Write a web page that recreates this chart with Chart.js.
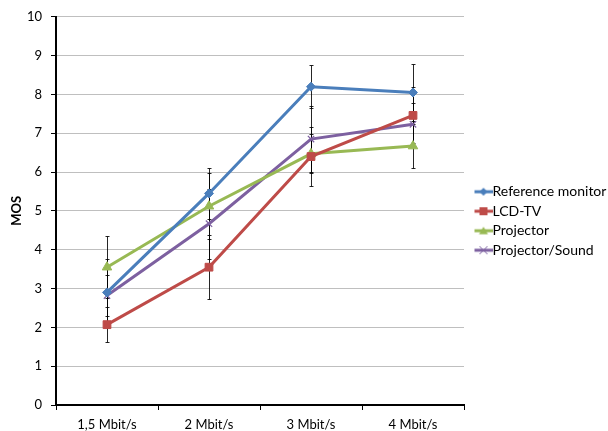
<!DOCTYPE html>
<html>
<head>
<meta charset="utf-8">
<script src="https://cdn.jsdelivr.net/npm/chart.js@4/dist/chart.umd.min.js"></script>
<style>
  html, body { margin: 0; padding: 0; background: #fff; }
  #wrap { width: 608px; height: 431px; }
</style>
</head>
<body>
<div id="wrap"><canvas id="c" width="608" height="431"></canvas></div>
<script>
const categories = ['1,5 Mbit/s', '2 Mbit/s', '3 Mbit/s', '4 Mbit/s'];
const seriesNames = ['Reference monitor', 'LCD-TV', 'Projector', 'Projector/Sound'];
const refMonitor = [2.90, 5.45, 8.20, 8.05];
const lcdTv = [2.07, 3.55, 6.40, 7.46];
const projector = [3.55, 5.12, 6.47, 6.67];
const projectorSound = [2.82, 4.67, 6.85, 7.23];
const refMonitorErr = [0.85, 0.65, 0.56, 0.73];
const lcdTvErr = [0.46, 0.83, 0.75, 0.72];
const projectorErr = [0.80, 0.85, 0.50, 0.57];
const projectorSoundErr = [0.52, 0.90, 0.85, 0.55];
const yTicks = [0, 1, 2, 3, 4, 5, 6, 7, 8, 9, 10];

const colors = ['#4a7ebb', '#be4b48', '#98b954', '#7d60a0'];
const styles = ['rectRot', 'rect', 'triangle', 'crossRot'];
const radii = [4.5, 5.5, 5.5, 4.5];

// legend glyph: transparent 12px on the left, 18px line+marker on the right
function legendGlyph(i) {
  const cv = document.createElement('canvas');
  cv.width = 30; cv.height = 12;
  const g = cv.getContext('2d');
  g.strokeStyle = colors[i]; g.fillStyle = colors[i];
  g.lineWidth = 3;
  g.beginPath(); g.moveTo(12, 6); g.lineTo(30, 6); g.stroke();
  const cx = 21, cy = 6;
  g.lineWidth = 1;
  g.beginPath();
  if (i === 0) { g.moveTo(cx, cy - 4); g.lineTo(cx + 4, cy); g.lineTo(cx, cy + 4); g.lineTo(cx - 4, cy); g.closePath(); g.fill(); }
  else if (i === 1) { g.fillRect(cx - 4, cy - 4, 8, 8); }
  else if (i === 2) { g.moveTo(cx, cy - 4); g.lineTo(cx + 4.5, cy + 3.5); g.lineTo(cx - 4.5, cy + 3.5); g.closePath(); g.fill(); }
  else { g.moveTo(cx - 4, cy - 4); g.lineTo(cx + 4, cy + 4); g.moveTo(cx + 4, cy - 4); g.lineTo(cx - 4, cy + 4); g.stroke(); }
  return cv;
}
const glyphs = [0, 1, 2, 3].map(legendGlyph);

const errorBarPlugin = {
  id: 'errorBars',
  beforeDatasetsDraw(chart) {
    const { ctx, scales: { x, y } } = chart;
    ctx.save();
    ctx.strokeStyle = 'rgba(0,0,0,0.85)';
    ctx.lineWidth = 1;
    chart.data.datasets.forEach(ds => {
      ds.errors.forEach((e, i) => {
        const px = Math.round(x.getPixelForValue(i)) + 0.5;
        const top = Math.round(y.getPixelForValue(ds.data[i] + e)) + 0.5;
        const bot = Math.round(y.getPixelForValue(ds.data[i] - e)) + 0.5;
        ctx.beginPath();
        ctx.moveTo(px, top); ctx.lineTo(px, bot);
        ctx.moveTo(px - 2, top); ctx.lineTo(px + 2, top);
        ctx.moveTo(px - 2, bot); ctx.lineTo(px + 2, bot);
        ctx.stroke();
      });
    });
    ctx.restore();
  }
};

const seriesData = [refMonitor, lcdTv, projector, projectorSound];
const seriesErr = [refMonitorErr, lcdTvErr, projectorErr, projectorSoundErr];

const datasets = seriesData.map((d, i) => ({
  label: seriesNames[i],
  data: d,
  errors: seriesErr[i],
  borderColor: colors[i],
  backgroundColor: colors[i],
  borderWidth: 3,
  pointStyle: styles[i],
  pointRadius: radii[i],
  pointHoverRadius: radii[i],
  pointBorderWidth: i === 3 ? 1.2 : 1,
  pointBackgroundColor: colors[i],
  pointBorderColor: colors[i],
  tension: 0,
  fill: false
}));

const FONT = "Lato, 'Open Sans', sans-serif";

new Chart(document.getElementById('c'), {
  type: 'line',
  data: { labels: categories, datasets },
  plugins: [errorBarPlugin],
  options: {
    responsive: false,
    animation: false,
    layout: { padding: { top: 11, right: 0, left: 9, bottom: 0 } },
    plugins: {
      legend: {
        position: 'right',
        align: 'center',
        maxWidth: 144,
        labels: {
          usePointStyle: true,
          pointStyleWidth: 16,
          boxHeight: 12,
          padding: 5.5,
          color: '#000',
          font: { family: FONT, size: 14 },
          generateLabels(chart) {
            const items = Chart.defaults.plugins.legend.labels.generateLabels(chart);
            items.forEach((it, i) => { it.pointStyle = glyphs[i]; it.rotation = 0; });
            return items;
          }
        }
      },
      tooltip: { enabled: false }
    },
    scales: {
      x: {
        type: 'category',
        offset: true,
        afterFit(axis) { axis.height = 26; },
        grid: { offset: true, drawOnChartArea: false, drawTicks: true, tickLength: 5, tickColor: '#000', tickWidth: 1 },
        border: { color: '#000', width: 2 },
        ticks: { color: '#000', font: { family: FONT, size: 13 }, padding: 7, maxRotation: 0 }
      },
      y: {
        min: 0, max: 10,
        afterFit(axis) { axis.width = 47; },
        afterBuildTicks(axis) { axis.ticks = yTicks.map(v => ({ value: v })); },
        grid: { color: '#bfbfbf', lineWidth: 1, drawTicks: true, tickLength: 5, tickColor: '#000', tickWidth: 1 },
        border: { color: '#000', width: 2 },
        ticks: { color: '#000', font: { family: FONT, size: 13 }, padding: 9 },
        title: { display: true, text: 'MOS', color: '#000', font: { family: FONT, size: 13, weight: 'bold' }, padding: { top: 0, bottom: 3 } }
      }
    }
  }
});
</script>
</body>
</html>
